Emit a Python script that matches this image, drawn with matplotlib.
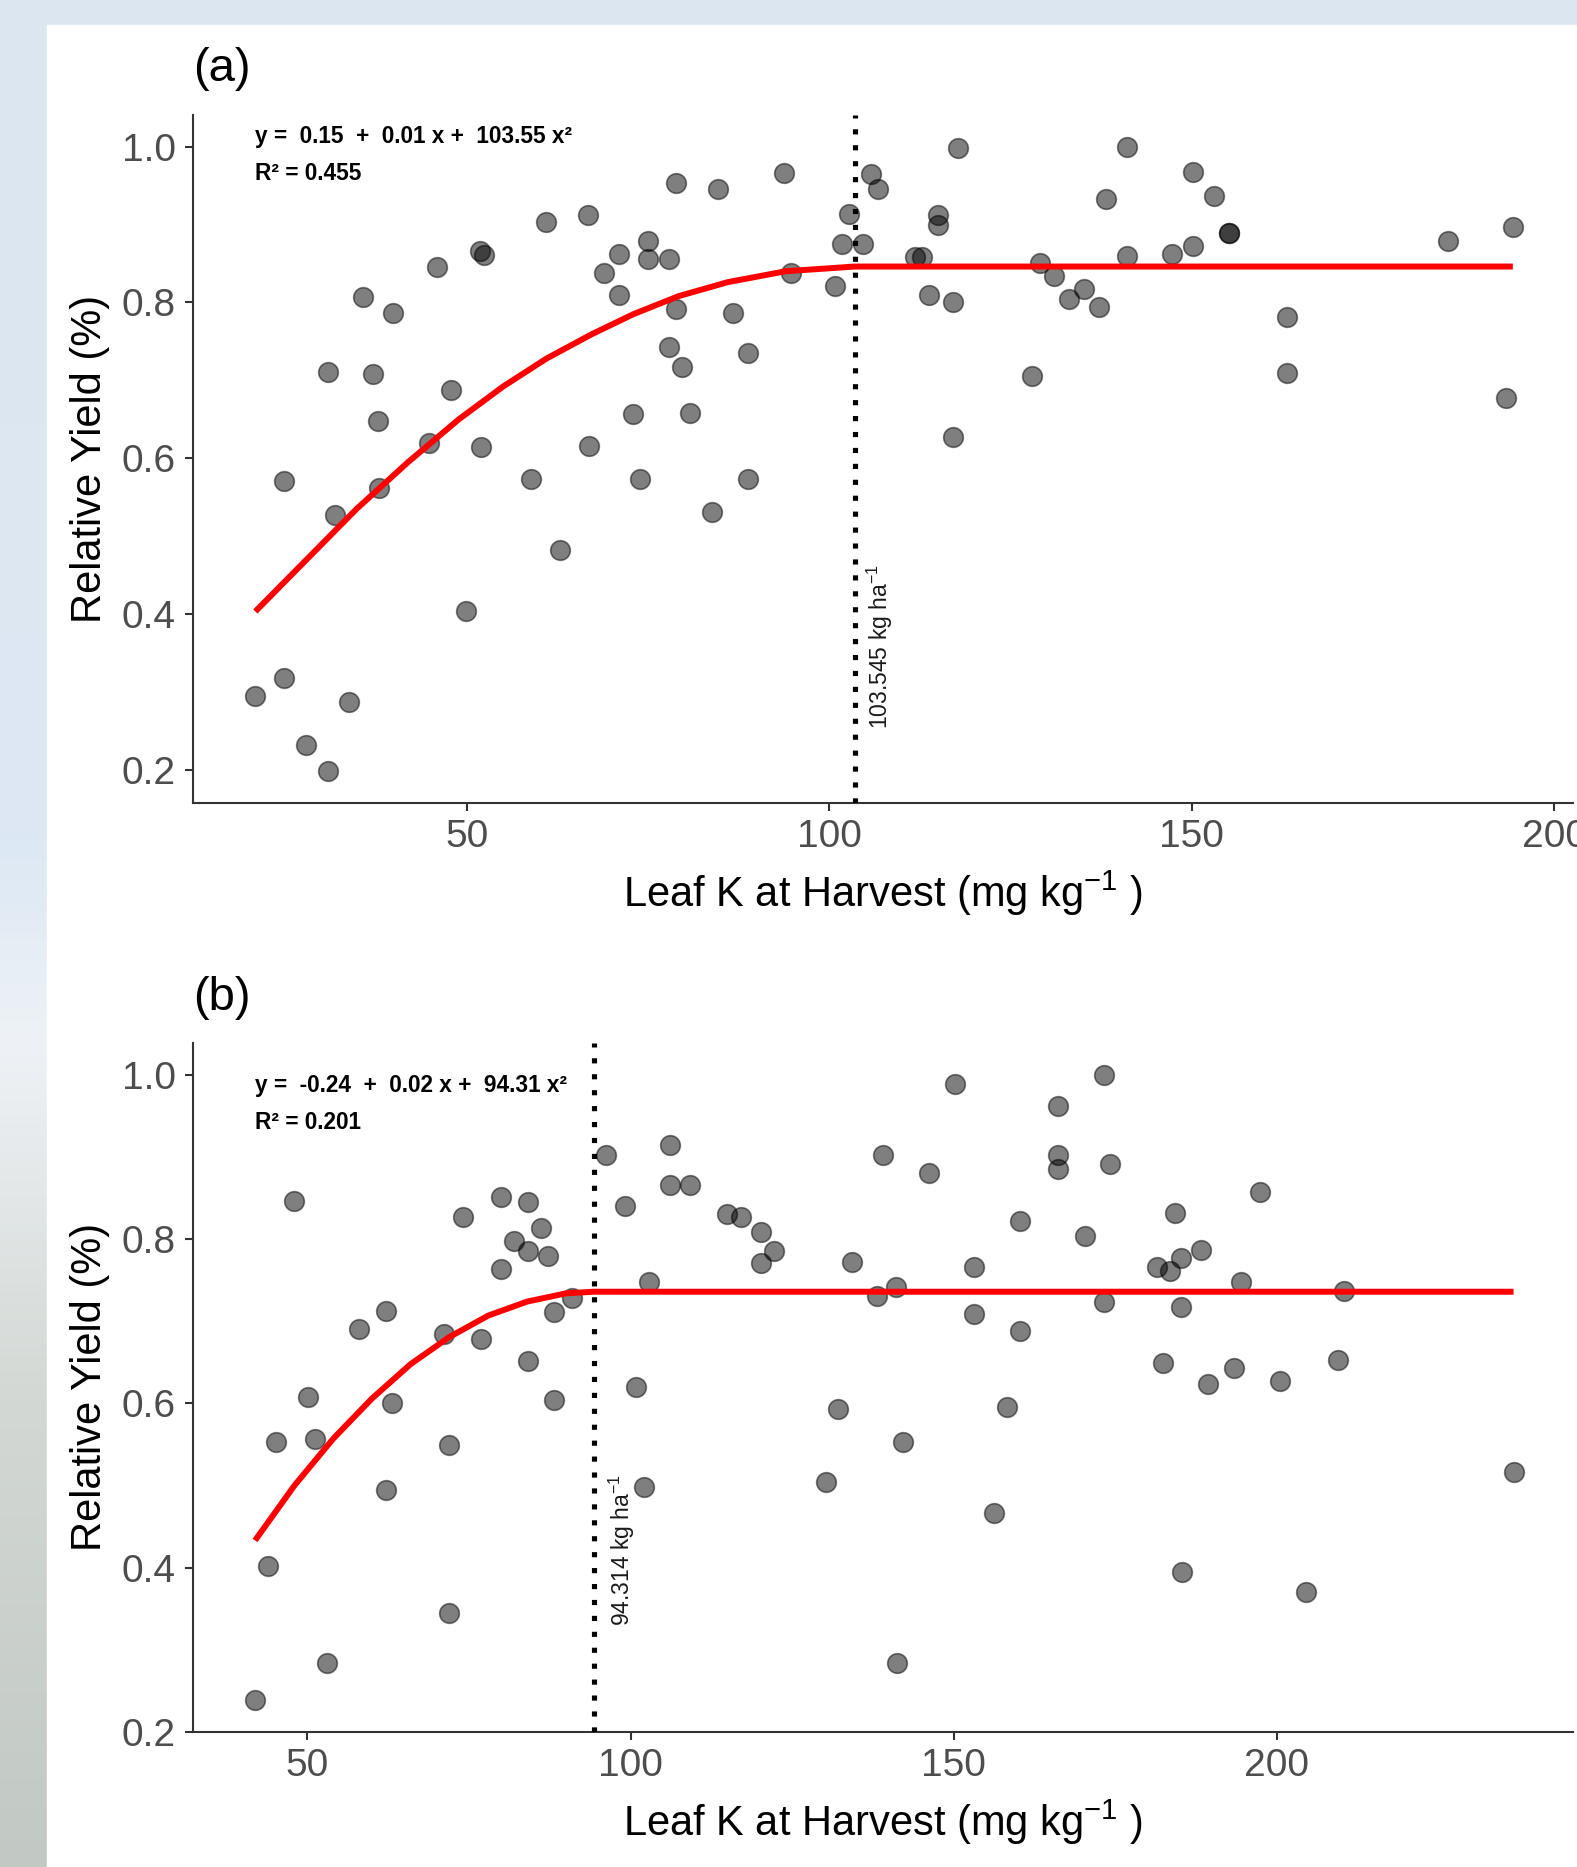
import numpy as np
import matplotlib
matplotlib.use("Agg")
import matplotlib.pyplot as plt
from matplotlib.patches import Rectangle
from matplotlib.colors import LinearSegmentedColormap

plt.rcParams['font.family'] = ['Liberation Sans', 'DejaVu Sans']
plt.rcParams['mathtext.fontset'] = 'custom'
plt.rcParams['mathtext.rm'] = 'Liberation Sans'
plt.rcParams['mathtext.it'] = 'Liberation Sans:italic'
plt.rcParams['mathtext.bf'] = 'Liberation Sans:bold'

# panel (a): leaf K vs relative yield
leaf_k_a = [20.8, 24.8, 24.8, 27.8, 30.8, 30.8, 31.8, 33.7, 35.7, 37.0,
            37.7, 37.8, 39.8, 44.8, 45.8, 47.8, 49.8, 51.9, 51.8, 52.4,
            58.8, 60.9, 62.9, 66.8, 66.7, 68.9, 71.0, 71.0, 72.9, 73.9,
            75.0, 75.0, 77.9, 78.8, 78.8, 77.9, 79.7, 80.8, 83.8, 84.7,
            86.7, 88.8, 88.8, 93.8, 94.7, 100.8, 101.8, 102.7, 104.7, 105.7,
            106.7, 111.8, 112.8, 113.8, 115.0, 115.0, 117.1, 117.0, 117.7, 128.0,
            129.1, 131.0, 133.0, 135.1, 137.2, 138.1, 141.1, 141.1, 147.3, 150.2,
            150.2, 153.1, 155.1, 155.1, 163.2, 163.2, 185.4, 194.3, 193.4]
ry_a = [0.295, 0.318, 0.571, 0.231, 0.198, 0.711, 0.527, 0.287, 0.807, 0.708,
        0.647, 0.561, 0.786, 0.619, 0.846, 0.687, 0.403, 0.614, 0.866, 0.861,
        0.573, 0.903, 0.482, 0.615, 0.912, 0.838, 0.862, 0.809, 0.657, 0.573,
        0.879, 0.856, 0.856, 0.953, 0.792, 0.743, 0.717, 0.658, 0.531, 0.945,
        0.786, 0.735, 0.573, 0.966, 0.838, 0.821, 0.875, 0.914, 0.875, 0.965,
        0.945, 0.858, 0.858, 0.809, 0.912, 0.899, 0.800, 0.627, 0.998, 0.706,
        0.850, 0.834, 0.804, 0.817, 0.794, 0.933, 1.000, 0.860, 0.862, 0.872,
        0.968, 0.936, 0.889, 0.889, 0.781, 0.709, 0.879, 0.897, 0.677]

# fitted quadratic-plateau line (a)
fit_x_a = [20.8, 27.8, 34.8, 41.9, 48.9, 55.0, 61.0, 67.2, 73.0, 79.2, 86.0, 94.0, 103.5, 194.3]
fit_y_a = [0.403, 0.469, 0.535, 0.595, 0.650, 0.692, 0.728, 0.759, 0.785, 0.808, 0.826, 0.840, 0.846, 0.846]
join_a = 103.545

# panel (b)
leaf_k_b = [41.9, 43.9, 45.1, 48.0, 50.1, 51.2, 53.0, 58.0, 62.1, 62.2,
            63.1, 71.1, 71.9, 71.9, 74.1, 76.8, 80.0, 80.0, 82.0, 84.2,
            84.2, 84.2, 86.1, 87.2, 88.1, 88.1, 91.0, 96.2, 99.2, 100.9,
            102.1, 102.9, 106.1, 106.1, 109.2, 114.9, 117.1, 120.1, 122.2, 120.1,
            130.2, 132.1, 134.2, 138.1, 139.1, 141.1, 141.2, 142.2, 146.2, 150.2,
            153.1, 153.1, 156.3, 158.3, 160.2, 160.2, 166.2, 166.2, 166.2, 170.3,
            173.2, 173.2, 174.2, 181.4, 182.4, 183.5, 184.2, 185.2, 185.2, 185.3,
            188.3, 189.3, 193.4, 194.4, 197.3, 200.4, 204.5, 209.4, 210.4, 236.6]
ry_b = [0.239, 0.402, 0.553, 0.846, 0.608, 0.556, 0.284, 0.690, 0.712, 0.495,
        0.600, 0.685, 0.549, 0.344, 0.827, 0.679, 0.852, 0.764, 0.798, 0.845,
        0.786, 0.652, 0.814, 0.779, 0.711, 0.604, 0.728, 0.903, 0.840, 0.620,
        0.498, 0.748, 0.915, 0.866, 0.866, 0.831, 0.827, 0.809, 0.786, 0.771,
        0.504, 0.593, 0.772, 0.731, 0.903, 0.742, 0.284, 0.553, 0.881, 0.989,
        0.766, 0.709, 0.466, 0.595, 0.688, 0.822, 0.962, 0.902, 0.885, 0.804,
        1.000, 0.724, 0.891, 0.766, 0.649, 0.761, 0.832, 0.777, 0.717, 0.394,
        0.787, 0.623, 0.643, 0.748, 0.858, 0.627, 0.370, 0.653, 0.737, 0.516]

fit_x_b = [41.9, 48.0, 54.0, 60.0, 66.0, 72.0, 78.0, 84.0, 90.0, 94.3, 236.6]
fit_y_b = [0.433, 0.500, 0.557, 0.606, 0.648, 0.681, 0.707, 0.724, 0.734, 0.736, 0.736]
join_b = 94.314

x_ticks = [50, 100, 150, 200]
y_ticks = [0.2, 0.4, 0.6, 0.8, 1.0]

W, H = 1577, 1867


def draw_panel(ax, x, y, fx, fy, join, xlim, ylim, eq, r2, eq_y, r2_y, note, note_xy):
    ax.scatter(x, y, s=200, c='black', alpha=0.5, edgecolors='black',
               linewidths=1.2, zorder=3)
    ax.plot(fx, fy, color='#ff0000', lw=4.3, zorder=4, solid_capstyle='butt')
    ax.axvline(join, color='black', lw=3.7, linestyle=(0, (1, 2.1)),
               dash_capstyle='butt', zorder=5)
    ax.text(note_xy[0], note_xy[1], note, rotation=90, fontsize=16.5,
            color='#1a1a1a', ha='center', va='bottom', zorder=6)
    ax.text(0.045, eq_y, eq, transform=ax.transAxes, fontsize=16.3,
            fontweight='bold', va='center', ha='left')
    ax.text(0.045, r2_y, r2, transform=ax.transAxes, fontsize=16.3,
            fontweight='bold', va='center', ha='left')

    ax.set_xlim(*xlim)
    ax.set_ylim(*ylim)
    ax.set_xticks(x_ticks)
    ax.set_yticks(y_ticks)
    ax.set_yticklabels([f"{v:.1f}" for v in y_ticks])
    for side in ['top', 'right']:
        ax.spines[side].set_visible(False)
    for side in ['left', 'bottom']:
        ax.spines[side].set_color('#333333')
        ax.spines[side].set_linewidth(1.5)
    ax.tick_params(length=5.5, width=1.5, color='#333333', labelsize=28,
                   labelcolor='#4d4d4d')
    ax.tick_params(axis='y', pad=7)
    ax.tick_params(axis='x', pad=6)
    ax.set_xlabel("Leaf K at Harvest (mg kg$^{-1}$ )", fontsize=30, labelpad=10)
    ax.set_ylabel("Relative Yield (%)", fontsize=30, labelpad=8)
    ax.set_facecolor('white')


fig = plt.figure(figsize=(W / 100, H / 100), dpi=100)

# background: blurred photo border behind the white card
bg = fig.add_axes([0, 0, 1, 1], zorder=-10)
bg_cmap = LinearSegmentedColormap.from_list(
    'bg', [(0, '#dde6f0'), (0.45, '#dce8f4'), (0.56, '#eef2f6'),
           (0.75, '#d3d8d4'), (1.0, '#c2c8c3')])
bg.imshow(np.linspace(0, 1, 256).reshape(-1, 1), cmap=bg_cmap, aspect='auto',
          extent=[0, 1, 0, 1], origin='upper')
bg.add_patch(Rectangle((47 / W, 0), 1 - 47 / W, 1 - 25 / H, color='white'))
bg.set_xlim(0, 1)
bg.set_ylim(0, 1)
bg.axis('off')

ax_a = fig.add_axes([193 / W, 1 - 803 / H, 1380 / W, 687.5 / H])
draw_panel(ax_a, leaf_k_a, ry_a, fit_x_a, fit_y_a, join_a,
           (12.2, 202.6), (0.157, 1.040),
           "y =  0.15  +  0.01 x +  103.55 x²", "R² = 0.455", 0.969, 0.915,
           "103.545 kg ha$^{-1}$", (107.0, 0.252))

ax_b = fig.add_axes([193 / W, 1 - 1731.7 / H, 1380 / W, 688.7 / H])
draw_panel(ax_b, leaf_k_b, ry_b, fit_x_b, fit_y_b, join_b,
           (32.3, 245.8), (0.201, 1.039),
           "y =  -0.24  +  0.02 x +  94.31 x²", "R² = 0.201", 0.9376, 0.885,
           "94.314 kg ha$^{-1}$", (98.7, 0.329))

fig.text(193 / W, 1 - 69 / H, "(a)", fontsize=34, ha='left', va='center')
fig.text(193 / W, 1 - 998 / H, "(b)", fontsize=34, ha='left', va='center')

fig.savefig('out.png', dpi=100)
